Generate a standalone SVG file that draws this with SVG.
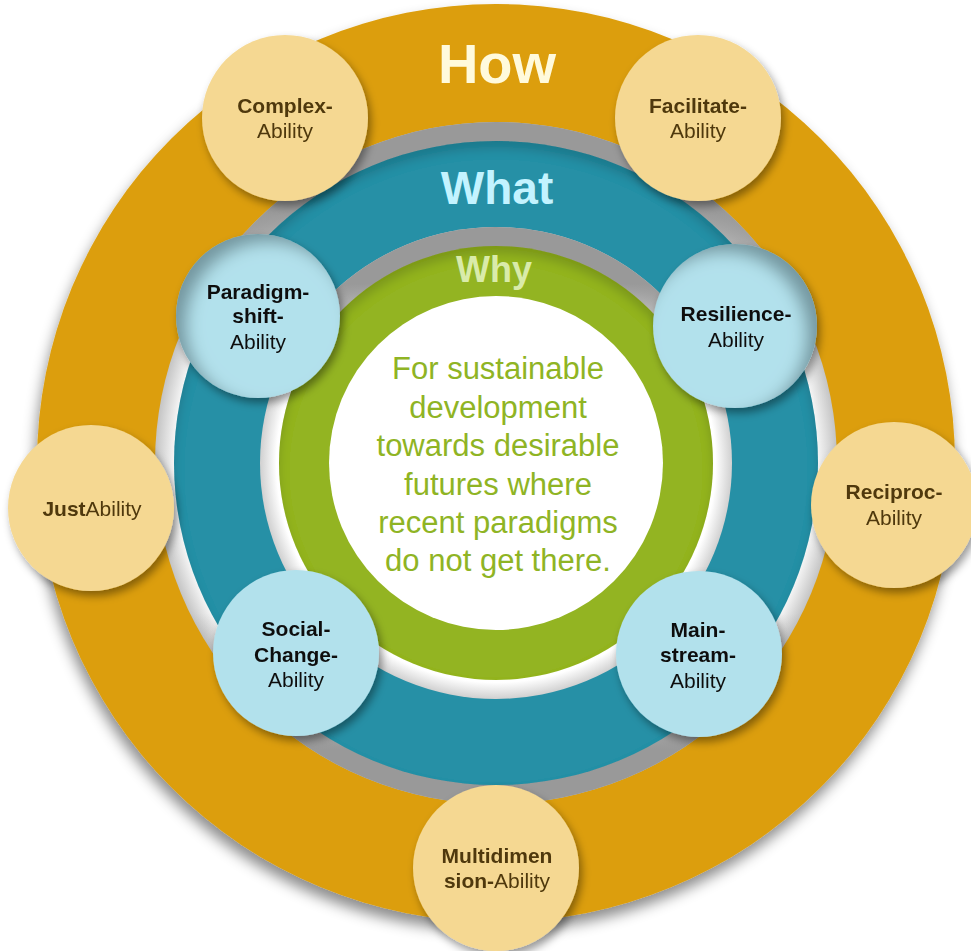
<svg xmlns="http://www.w3.org/2000/svg" width="971" height="951" viewBox="0 0 971 951">
<defs>
<style>
.lbl{font-family:"Liberation Sans",Arial,sans-serif;font-size:21px;text-anchor:middle}
.b{font-weight:bold}
.brown{fill:#4F390C}
.dark{fill:#111111}
.ring{font-family:"Liberation Sans",Arial,sans-serif;font-weight:bold;text-anchor:middle}
.center{font-family:"Liberation Sans",Arial,sans-serif;font-size:31px;fill:#8FB424;text-anchor:middle}
.oc{fill:#F5D892}
.bc{fill:#B2E1EC}
</style>
<filter id="ringShadow" x="-10%" y="-10%" width="120%" height="125%">
<feGaussianBlur in="SourceAlpha" stdDeviation="7"/>
<feOffset dx="-2" dy="9" result="b"/>
<feFlood flood-color="#000" flood-opacity="0.45"/>
<feComposite in2="b" operator="in"/>
<feMerge><feMergeNode/><feMergeNode in="SourceGraphic"/></feMerge>
</filter>
<filter id="ds" x="-25%" y="-25%" width="150%" height="150%">
<feGaussianBlur in="SourceAlpha" stdDeviation="4"/>
<feOffset dx="3" dy="5" result="b"/>
<feFlood flood-color="#000" flood-opacity="0.4"/>
<feComposite in2="b" operator="in"/>
<feMerge><feMergeNode/><feMergeNode in="SourceGraphic"/></feMerge>
</filter>
<filter id="inset" x="-5%" y="-5%" width="110%" height="110%">
<feOffset in="SourceAlpha" dy="8" result="o"/>
<feGaussianBlur in="o" stdDeviation="5" result="bl"/>
<feComposite in="SourceAlpha" in2="bl" operator="out" result="edge"/>
<feFlood flood-color="#000" flood-opacity="0.3"/>
<feComposite in2="edge" operator="in" result="sh"/>
<feMerge><feMergeNode in="SourceGraphic"/><feMergeNode in="sh"/></feMerge>
</filter>
<filter id="insetUL" x="-10%" y="-10%" width="120%" height="120%">
<feOffset in="SourceAlpha" dx="11" dy="9" result="o"/>
<feGaussianBlur in="o" stdDeviation="8" result="bl"/>
<feComposite in="SourceAlpha" in2="bl" operator="out" result="edge"/>
<feFlood flood-color="#0B2A33" flood-opacity="0.6"/>
<feComposite in2="edge" operator="in" result="sh"/>
<feMerge><feMergeNode in="SourceGraphic"/><feMergeNode in="sh"/></feMerge>
</filter>
<filter id="insetUR" x="-10%" y="-10%" width="120%" height="120%">
<feOffset in="SourceAlpha" dx="-11" dy="9" result="o"/>
<feGaussianBlur in="o" stdDeviation="8" result="bl"/>
<feComposite in="SourceAlpha" in2="bl" operator="out" result="edge"/>
<feFlood flood-color="#0B2A33" flood-opacity="0.6"/>
<feComposite in2="edge" operator="in" result="sh"/>
<feMerge><feMergeNode in="SourceGraphic"/><feMergeNode in="sh"/></feMerge>
</filter>
<radialGradient id="gap1R" gradientUnits="userSpaceOnUse" cx="496" cy="463" r="341">
<stop offset="0.94" stop-color="#f8f8f8"/>
<stop offset="1" stop-color="#c4c4c4"/>
</radialGradient>
<linearGradient id="gap1L" x1="0" y1="0" x2="0" y2="1">
<stop offset="0" stop-color="#999" stop-opacity="1"/>
<stop offset="0.13" stop-color="#999" stop-opacity="1"/>
<stop offset="0.32" stop-color="#999" stop-opacity="0"/>
<stop offset="0.72" stop-color="#999" stop-opacity="0"/>
<stop offset="0.92" stop-color="#999" stop-opacity="1"/>
<stop offset="1" stop-color="#999" stop-opacity="1"/>
</linearGradient>
<radialGradient id="gap2R" gradientUnits="userSpaceOnUse" cx="496" cy="463" r="236">
<stop offset="0.93" stop-color="#ffffff"/>
<stop offset="1" stop-color="#d0d0d0"/>
</radialGradient>
<linearGradient id="gap2L" x1="0" y1="0" x2="0" y2="1">
<stop offset="0" stop-color="#999" stop-opacity="1"/>
<stop offset="0.12" stop-color="#999" stop-opacity="1"/>
<stop offset="0.32" stop-color="#999" stop-opacity="0"/>
<stop offset="1" stop-color="#999" stop-opacity="0"/>
</linearGradient>
</defs>
<rect width="971" height="951" fill="#ffffff"/>

<g id="rings">
<circle cx="496" cy="463" r="459" fill="#DC9E0F" filter="url(#ringShadow)"/>
<circle cx="496" cy="463" r="341" fill="url(#gap1R)"/>
<circle cx="496" cy="463" r="341" fill="url(#gap1L)"/>
<circle cx="496" cy="463" r="322" fill="#2690A6" filter="url(#inset)"/>
<circle cx="496" cy="463" r="236" fill="url(#gap2R)"/>
<circle cx="496" cy="463" r="236" fill="url(#gap2L)"/>
<circle cx="496" cy="463" r="217" fill="#93B422" filter="url(#inset)"/>
<circle cx="496" cy="463" r="167" fill="#ffffff"/>
<text class="ring" x="497" y="83" font-size="56" fill="#FFFADC">How</text>
<text class="ring" x="497" y="204" font-size="46" fill="#C3F3FF">What</text>
<text class="ring" x="494" y="282" font-size="36" fill="#D9EBA9">Why</text>
</g>

<g id="center">
<text class="center" x="498" y="379">For sustainable</text>
<text class="center" x="498" y="417.5">development</text>
<text class="center" x="498" y="456">towards desirable</text>
<text class="center" x="498" y="494.5">futures where</text>
<text class="center" x="498" y="533">recent paradigms</text>
<text class="center" x="498" y="571">do not get there.</text>
</g>

<g id="connectors"></g>

<g id="paradigm" filter="url(#ds)">
<circle class="bc" cx="258" cy="316" r="82" filter="url(#insetUL)"/>
<text class="lbl dark b" x="258" y="299">Paradigm-</text>
<text class="lbl dark b" x="258" y="323">shift-</text>
<text class="lbl dark" x="258" y="349">Ability</text>
</g>
<g id="resilience" filter="url(#ds)">
<circle class="bc" cx="735" cy="326" r="82" filter="url(#insetUR)"/>
<text class="lbl dark b" x="736" y="321">Resilience-</text>
<text class="lbl dark" x="736" y="347">Ability</text>
</g>
<g id="socialchange" filter="url(#ds)">
<circle class="bc" cx="296" cy="653" r="83"/>
<text class="lbl dark b" x="296" y="636">Social-</text>
<text class="lbl dark b" x="296" y="662">Change-</text>
<text class="lbl dark" x="296" y="687">Ability</text>
</g>
<g id="mainstream" filter="url(#ds)">
<circle class="bc" cx="699" cy="654" r="83"/>
<text class="lbl dark b" x="698" y="637">Main-</text>
<text class="lbl dark b" x="698" y="662">stream-</text>
<text class="lbl dark" x="698" y="688">Ability</text>
</g>

<g id="complex" filter="url(#ds)">
<circle class="oc" cx="285" cy="118" r="83"/>
<text class="lbl brown b" x="285" y="113">Complex-</text>
<text class="lbl brown" x="285" y="138">Ability</text>
</g>
<g id="facilitate" filter="url(#ds)">
<circle class="oc" cx="698" cy="118" r="83"/>
<text class="lbl brown b" x="698" y="113">Facilitate-</text>
<text class="lbl brown" x="698" y="138">Ability</text>
</g>
<g id="just" filter="url(#ds)">
<circle class="oc" cx="91" cy="508" r="83"/>
<text class="lbl brown" x="92" y="516"><tspan class="b">Just</tspan>Ability</text>
</g>
<g id="reciproc" filter="url(#ds)">
<circle class="oc" cx="894" cy="505" r="83"/>
<text class="lbl brown b" x="894" y="499">Reciproc-</text>
<text class="lbl brown" x="894" y="525">Ability</text>
</g>
<g id="multidimension" filter="url(#ds)">
<circle class="oc" cx="496" cy="868" r="83"/>
<text class="lbl brown b" x="497" y="863">Multidimen</text>
<text class="lbl brown" x="497" y="888"><tspan class="b">sion-</tspan>Ability</text>
</g>
</svg>
